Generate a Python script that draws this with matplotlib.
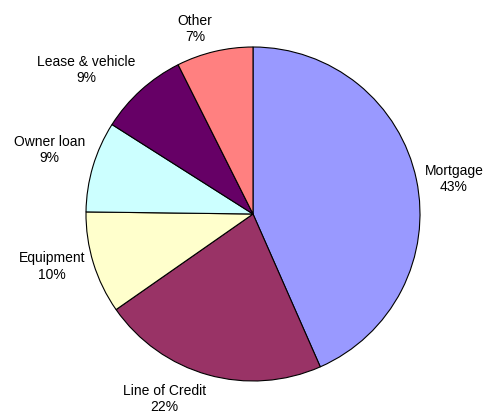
import numpy as np
import matplotlib.pyplot as plt

plt.rcParams['font.family'] = ['Liberation Sans', 'DejaVu Sans']

# data (shares of total debt, %)
categories = ['Mortgage', 'Line of Credit', 'Equipment', 'Owner loan', 'Lease & vehicle', 'Other']
shares = [43.4, 21.9, 9.9, 8.8, 8.6, 7.4]
colors = ['#9999FF', '#993366', '#FFFFCC', '#CCFFFF', '#660066', '#FF8080']

fig = plt.figure(figsize=(4.89, 4.14), dpi=100)
ax = fig.add_axes([86 / 489, 32 / 414, 334 / 489, 334 / 414])

wedges, _ = ax.pie(shares, colors=colors, startangle=90, counterclock=False,
                   radius=1, wedgeprops=dict(edgecolor='black', linewidth=0.8))
ax.set_xlim(-1, 1)
ax.set_ylim(-1, 1)
ax.axis('off')

total = sum(shares)
for w, name, val in zip(wedges, categories, shares):
    theta = np.deg2rad((w.theta1 + w.theta2) / 2)
    c, s = np.cos(theta), np.sin(theta)
    x, y = 1.05 * c, 1.05 * s
    ha = 'left' if c > 0.1 else ('right' if c < -0.1 else 'center')
    va = 'bottom' if s > 0.25 else ('top' if s < -0.35 else 'center')
    pct = round(100 * val / total)
    ax.text(x, y, f'{name}\n{pct}%', ha=ha, va=va, fontsize=10,
            multialignment='center', clip_on=False)

fig.savefig('out.png', dpi=100)
